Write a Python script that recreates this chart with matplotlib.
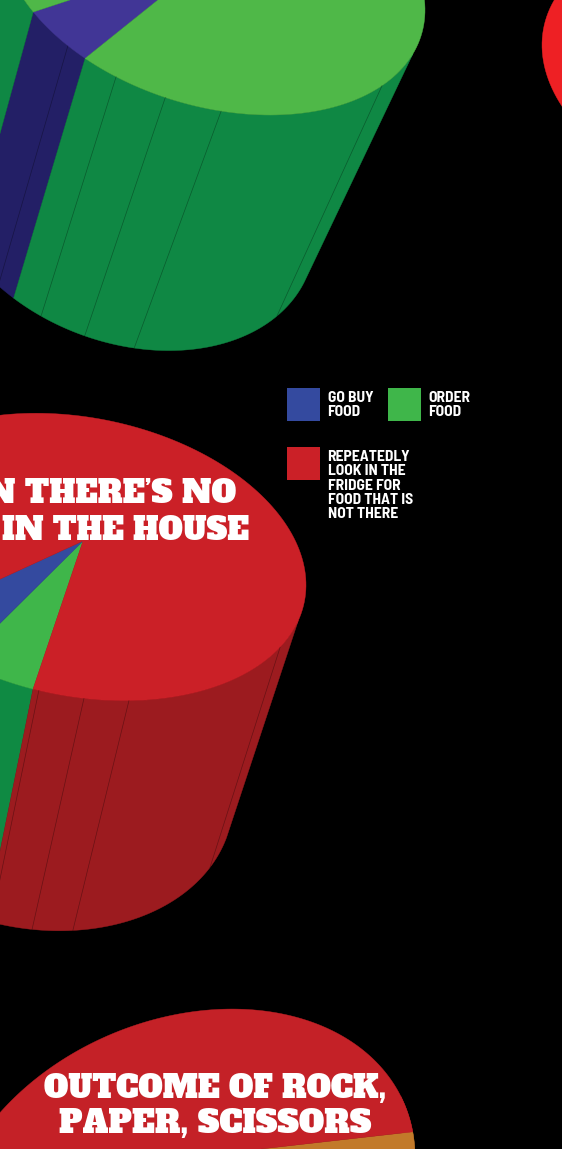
import numpy as np
import matplotlib
matplotlib.use('Agg')
import matplotlib.pyplot as plt
from matplotlib.patches import Polygon, Rectangle

# shares of each pie, in percent
pie1_names = ['go buy food', 'order food']
pie1_values = [5.8, 94.2]
pie2_names = ['order food', 'go buy food', 'look in the fridge']
pie2_values = [5.5, 5.4, 89.1]
pie3_names = ['orange', 'red']
pie3_values = [41, 59]
pie4_values = [100]

legend_labels = ['GO BUY\nFOOD', 'ORDER\nFOOD',
                 'REPEATEDLY\nLOOK IN THE\nFRIDGE FOR\nFOOD THAT IS\nNOT THERE']
title2_lines = ['N THERE\u2019S NO', 'IN THE HOUSE']
title3_lines = ['OUTCOME OF ROCK,', 'PAPER, SCISSORS']

BLUE, GREEN, RED = '#344a9f', '#3fb64a', '#cb2027'

# ellipses: cx, cy, A, Ay, By   x = cx + A cos t, y = cy + Ay cos t + By sin t
TOP1, BOT1 = (213, -28.6, 212, 38.6, 138.3), (127, 203.4, 188, 32.7, 143.5)
TOP2, BOT2 = (80, 557, 226, 28, 141), (28.5, 775, 205, 23.5, 154)
TOP3, BOT3 = (180.4, 1199, 234.6, -41.8, 185.3), (181.5, 1340, 234, -40, 186)
TOP4 = (768, 73, 226, 28, 143)


def ring(e, t):
    t = np.radians(t)
    return np.column_stack([e[0] + e[2] * np.cos(t),
                            e[1] + e[3] * np.cos(t) + e[4] * np.sin(t)])


def draw_pie(ax, top, bottom, apex, start, values, top_cols, side_cols,
             facets=(), side_range=(0, 200), line='#00000055'):
    edges = start + np.cumsum([0] + list(values)) * 3.6
    if bottom is not None:
        for t0, t1, col in zip(edges[:-1], edges[1:], side_cols):
            for shift in (-360, 0, 360):
                a = max(t0 + shift, side_range[0])
                b = min(t1 + shift, side_range[1])
                if b <= a:
                    continue
                ts = np.linspace(a, b, 80)
                pts = np.vstack([ring(top, ts), ring(bottom, ts[::-1])])
                ax.add_patch(Polygon(pts, fc=col, ec=col, lw=0.3))
        for t in facets:
            p = np.vstack([ring(top, [t]), ring(bottom, [t])])
            ax.plot(p[:, 0], p[:, 1], color=line, lw=0.5)
    for t0, t1, col in zip(edges[:-1], edges[1:], top_cols):
        ts = np.linspace(t0, t1, 200)
        pts = np.vstack([[apex], ring(top, ts)])
        ax.add_patch(Polygon(pts, fc=col, ec=col, lw=0.3))


fig = plt.figure(figsize=(5.62, 11.49), dpi=100, facecolor='black')
ax = fig.add_axes([0, 0, 1, 1])
ax.set_xlim(0, 562)
ax.set_ylim(1149, 0)
ax.axis('off')

draw_pie(ax, TOP4, None, (768, 60), 0, pie4_values, ['#ee2024'], [])
draw_pie(ax, TOP1, BOT1, (219, -49), 127.1, pie1_values,
         ['#413696', '#4fb848'], ['#231f66', '#0f8844'],
         facets=[37.1, 87.8, 103, 117.2, 133.2], side_range=(19.4, 200))
draw_pie(ax, TOP2, BOT2, (83, 541), 102, pie2_values,
         [GREEN, BLUE, RED], ['#0f8a43', '#231f66', '#9c1b1f'],
         facets=[27.7, 77.5, 89, 100.5], side_range=(15, 200))
draw_pie(ax, TOP3, BOT3, (190, 1157), -8, pie3_values,
         ['#c27a2a', '#c42127'], ['#7a4a18', '#8a1a1c'], side_range=(-20, 90))

# legend
for (x, y, col), label in zip([(287, 388, BLUE), (388, 388, GREEN), (287, 447, RED)],
                              legend_labels):
    ax.add_patch(Rectangle((x, y), 33, 33, fc=col, ec='none'))
    ax.text(x + 40.5, y + 3, label, color='white', fontsize=11.2, fontweight='bold',
            family=['Barlow Semi Condensed', 'DejaVu Sans'],
            va='top', ha='left', linespacing=1.03)

slab = dict(color='white', family=['Alfa Slab One', 'DejaVu Serif'], va='baseline')
ax.text(236, 503, title2_lines[0], ha='right', fontsize=22.5, **slab)
ax.text(249, 540, title2_lines[1], ha='right', fontsize=22, **slab)
ax.text(215, 1098, title3_lines[0], ha='center', fontsize=22.2, **slab)
ax.text(215, 1133, title3_lines[1], ha='center', fontsize=23, **slab)

fig.savefig('out.png', dpi=100, facecolor='black')
